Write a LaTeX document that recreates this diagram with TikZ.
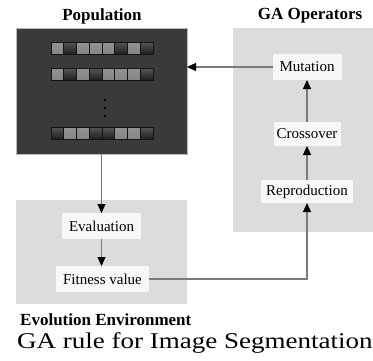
\documentclass[tikz,border=0pt]{standalone}
\usepackage{fontspec}
\setmainfont{Liberation Serif}
\usetikzlibrary{arrows.meta,positioning}

\definecolor{popfill}{HTML}{3A3A3A}
\definecolor{panel}{HTML}{DCDCDC}
\definecolor{boxfill}{HTML}{F7F7F7}
\definecolor{wire}{HTML}{7A7A7A}

\tikzset{
  panelbox/.style={fill=panel, draw=none, inner sep=0pt, outer sep=0pt},
  popbox/.style={fill=popfill, draw=gray!55, line width=0.6pt, inner sep=0pt, outer sep=0pt},
  opbox/.style={fill=boxfill, draw=none, inner sep=0pt, outer sep=0pt,
    font=\fontsize{15}{18}\selectfont},
  ttl/.style={font=\fontsize{17}{20}\selectfont\bfseries, inner sep=0pt},
  flow/.style={draw=wire, line width=1.1pt,
    -{Triangle[length=9pt,width=8pt,color=black]}},
  cell0/.style={shading=axis, top color=black!66, middle color=black!80,
    bottom color=black!88, draw=black!92, line width=0.6pt},
  cell1/.style={shading=axis, top color=black!42, middle color=black!22,
    bottom color=black!48, draw=black!92, line width=0.6pt},
}

% one chromosome: #1 = top edge, #2 = gene values
\newcommand\generow[2]{%
  \foreach \g [count=\k from 0] in {#2} {
    \path[cell\g] (51+\k*12.75,#1) rectangle ++(12.75,12);
  }%
}

\begin{document}
\begin{tikzpicture}[x=1pt,y=-1pt]
\useasboundingbox (0,0) rectangle (373,360);

% panels
\node[popbox, minimum width=171pt, minimum height=126pt] (pop) at (101.5,91) {};
\node[panelbox, minimum width=140pt, minimum height=204pt] (ops) at (303,130) {};
\node[panelbox, minimum width=171pt, minimum height=104pt] (env) at (101.5,252) {};

% panel titles
\node[ttl] (poptitle) at (102,16) {Population};
\node[ttl] (opstitle) at (310,16) {GA Operators};
\node[ttl, anchor=base west] (envtitle) at (20,325) {Evolution Environment};

% population of chromosomes
\generow{42}{1,0,1,1,1,0,1,0}
\generow{68}{1,0,1,0,1,1,1,0}
\generow{127}{0,1,1,0,0,1,1,0}
\foreach \yy in {99,107,115}
  \fill[black] (104.2,\yy) rectangle ++(2.2,2.2);

% operators
\node[opbox, minimum width=69pt, minimum height=26pt] (mut) at (307,67) {Mutation};
\node[opbox, minimum width=67pt, minimum height=24pt] (cro) at (307,134) {Crossover};
\node[opbox, minimum width=92pt, minimum height=23pt] (rep) at (307,191.5) {Reproduction};

% evaluation
\node[opbox, minimum width=79pt, minimum height=26pt] (eva) at (101.5,226) {Evaluation};
\node[opbox, minimum width=93pt, minimum height=26pt] (fit) at (102.5,279) {Fitness value};

% flow
\draw[flow] (pop.south) -- (eva.north);
\draw[flow] (eva.south) -- (eva.south |- fit.north);
\draw[flow] (fit.east) -| (rep.south);
\draw[flow] (rep.north) -- (cro.south);
\draw[flow] (cro.north) -- (mut.south);
\draw[flow] (mut.west) -- (mut.west -| pop.east);

% caption
\node[anchor=base west, inner sep=0pt] (caption) at (17,348)
  {\fontsize{22.5}{26}\selectfont\scalebox{1.2}[1]{GA rule for Image Segmentation}};
\end{tikzpicture}
\end{document}
